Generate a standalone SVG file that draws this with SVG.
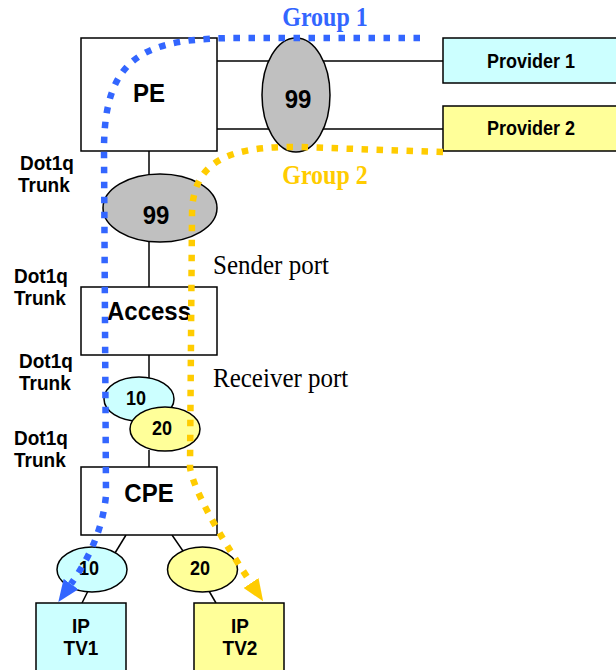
<svg xmlns="http://www.w3.org/2000/svg" width="616" height="670" viewBox="0 0 616 670">
<style>
.box{stroke:#000;stroke-width:1.5}
.ln{stroke:#000;stroke-width:1.5;fill:none}
.el{stroke:#000;stroke-width:1.5}
.lbl{font-family:"Liberation Sans",Arial,sans-serif;font-weight:bold;fill:#000;text-anchor:middle}
.side{font-family:"Liberation Sans",Arial,sans-serif;font-weight:bold;font-size:19px;fill:#000}
.port{font-family:"Liberation Serif","Times New Roman",serif;font-size:25px;fill:#000}
.grp{font-family:"Liberation Serif","Times New Roman",serif;font-weight:bold;font-size:24px;text-anchor:middle}
.flow{fill:none;stroke-width:6.5;stroke-dasharray:6.5 8.5}
</style>
<defs>
<marker id="arrB" markerUnits="userSpaceOnUse" markerWidth="22" markerHeight="18" viewBox="0 0 22 18" refX="0" refY="9" orient="auto">
<path d="M0,0 L22,9 L0,18 z" fill="#3366ff"/>
</marker>
<marker id="arrY" markerUnits="userSpaceOnUse" markerWidth="22" markerHeight="18" viewBox="0 0 22 18" refX="0" refY="9" orient="auto">
<path d="M0,0 L22,9 L0,18 z" fill="#ffcc00"/>
</marker>
</defs>
<rect width="616" height="670" fill="#fff"/>
<g id="connectors">
<line class="ln" x1="217" y1="61" x2="443" y2="61"/>
<line class="ln" x1="217" y1="129" x2="443" y2="129"/>
<line class="ln" x1="149" y1="151" x2="149" y2="176"/>
<line class="ln" x1="149" y1="241" x2="149" y2="287"/>
<line class="ln" x1="149" y1="355" x2="149" y2="378"/>
<line class="ln" x1="149" y1="450" x2="149" y2="467"/>
<line class="ln" x1="126" y1="535" x2="115" y2="553"/>
<line class="ln" x1="172" y1="535" x2="183" y2="551"/>
<line class="ln" x1="88" y1="591" x2="82" y2="603"/>
<line class="ln" x1="209" y1="591" x2="216" y2="603"/>
</g>
<g id="pe">
<rect class="box" x="81" y="38" width="136" height="113" fill="#fff"/>
<text class="lbl" transform="translate(149 102) scale(1 1.1)" font-size="24">PE</text>
</g>
<g id="provider1">
<rect class="box" x="443" y="38" width="180" height="45" fill="#ccffff"/>
<text class="lbl" transform="translate(531 68) scale(1 1.1)" font-size="18">Provider 1</text>
</g>
<g id="provider2">
<rect class="box" x="443" y="106" width="180" height="45" fill="#ffff99"/>
<text class="lbl" transform="translate(531 135) scale(1 1.1)" font-size="18">Provider 2</text>
</g>
<g id="vlan99-top">
<ellipse class="el" cx="296" cy="95" rx="34" ry="57" fill="#c0c0c0"/>
<text class="lbl" transform="translate(298 108) scale(1 1.1)" font-size="24">99</text>
</g>
<g id="vlan99-trunk">
<ellipse class="el" cx="160" cy="208" rx="57" ry="34" fill="#c0c0c0"/>
<text class="lbl" transform="translate(156 224) scale(1 1.1)" font-size="24">99</text>
</g>
<g id="access">
<rect class="box" x="81" y="287" width="136" height="68" fill="#fff"/>
<text class="lbl" transform="translate(149 320) scale(1 1.1)" font-size="24">Access</text>
</g>
<g id="vlan10-access">
<ellipse class="el" cx="139" cy="399" rx="35" ry="22" fill="#ccffff"/>
<text class="lbl" transform="translate(136 405) scale(1 1.1)" font-size="18">10</text>
</g>
<g id="vlan20-access">
<ellipse class="el" cx="165" cy="429" rx="35" ry="22" fill="#ffff99"/>
<text class="lbl" transform="translate(162 435) scale(1 1.1)" font-size="18">20</text>
</g>
<g id="cpe">
<rect class="box" x="81" y="467" width="136" height="68" fill="#fff"/>
<text class="lbl" transform="translate(149 502) scale(1 1.1)" font-size="24">CPE</text>
</g>
<g id="vlan10-cpe">
<ellipse class="el" cx="92" cy="569.5" rx="35" ry="22.5" fill="#ccffff"/>
<text class="lbl" transform="translate(89 575) scale(1 1.1)" font-size="18">10</text>
</g>
<g id="vlan20-cpe">
<ellipse class="el" cx="202.5" cy="569.5" rx="35" ry="22.5" fill="#ffff99"/>
<text class="lbl" transform="translate(200 575) scale(1 1.1)" font-size="18">20</text>
</g>
<g id="iptv1">
<rect class="box" x="36" y="603" width="90" height="80" fill="#ccffff"/>
<text class="lbl" transform="translate(81 633) scale(1 1.1)" font-size="19">IP</text>
<text class="lbl" transform="translate(81 655) scale(1 1.1)" font-size="19">TV1</text>
</g>
<g id="iptv2">
<rect class="box" x="194" y="603" width="90" height="80" fill="#ffff99"/>
<text class="lbl" transform="translate(240 633) scale(1 1.1)" font-size="19">IP</text>
<text class="lbl" transform="translate(240 655) scale(1 1.1)" font-size="19">TV2</text>
</g>
<g id="labels">
<text class="side" transform="translate(20 170) scale(1 1.1)">Dot1q</text>
<text class="side" transform="translate(18 192) scale(1 1.1)">Trunk</text>
<text class="side" transform="translate(14 283) scale(1 1.1)">Dot1q</text>
<text class="side" transform="translate(14 305) scale(1 1.1)">Trunk</text>
<text class="side" transform="translate(19 368) scale(1 1.1)">Dot1q</text>
<text class="side" transform="translate(19 390) scale(1 1.1)">Trunk</text>
<text class="side" transform="translate(14 445) scale(1 1.1)">Dot1q</text>
<text class="side" transform="translate(14 467) scale(1 1.1)">Trunk</text>
<text class="port" transform="translate(213 274) scale(1 1.05)">Sender port</text>
<text class="port" transform="translate(213 387) scale(1 1.05)">Receiver port</text>
<text class="grp" transform="translate(325 26) scale(1 1.1)" fill="#3366ff">Group 1</text>
<text class="grp" transform="translate(325 184) scale(1 1.1)" fill="#ffcc00">Group 2</text>
</g>
<g id="flows">
<path class="flow" stroke="#3366ff" marker-end="url(#arrB)" d="M420 38 L240 38 C145 38 104 55 104 150 L106 495 Q102 540 71 584"/>
<path class="flow" stroke="#ffcc00" marker-end="url(#arrY)" d="M443 152 L300 147 C230 146 192 160 192 215 L190 468 Q196 500 251 583"/>
</g>
</svg>
